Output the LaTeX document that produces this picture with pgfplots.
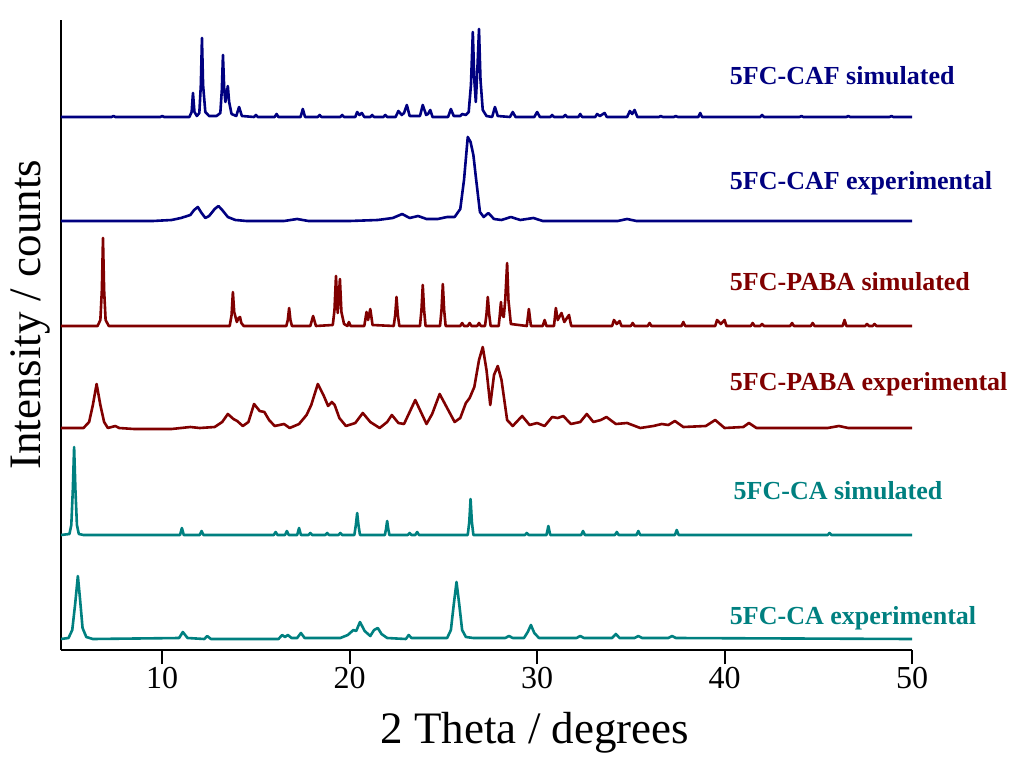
\documentclass[border=0pt]{standalone}
\usepackage{pgfplots}
\pgfplotsset{compat=1.18}
\usepackage{fontspec}
\setmainfont{Liberation Serif}

\definecolor{cafblue}{RGB}{0,0,128}
\definecolor{pabared}{RGB}{128,0,0}
\definecolor{cateal}{RGB}{0,128,128}

\begin{document}
\begin{tikzpicture}
\begin{axis}[
    scale only axis,
    width=851pt, height=630pt,
    xmin=4.6, xmax=50, ymin=0, ymax=630,
    axis x line*=bottom, axis y line*=left,
    axis line style={-, line width=2pt, black},
    xtick={10,20,30,40,50}, ytick=\empty,
    tick align=outside, major tick length=14pt,
    tick style={line width=2pt, black},
    /pgf/number format/assume math mode=true,
    xticklabel style={font=\fontsize{32}{32}\selectfont},
    xlabel={2 Theta / degrees},
    ylabel={Intensity / counts},
    xlabel style={font=\fontsize{45}{45}\selectfont, at={(axis description cs:0.557,-0.148)}, anchor=base},
    ylabel style={font=\fontsize{45}{45}\selectfont, at={(axis description cs:-0.036,0.532)}, anchor=center},
    every axis plot/.append style={line width=2.6pt, line join=round},
    clip=false,
]

% 5FC-CAF simulated
\addplot[cafblue] coordinates {
(4.6,533) (7.3,533)(7.4,534)(7.5,533) (9.9,533)(10.0,534)(10.1,533)
(11.45,533)(11.57,538)(11.64,557)(11.72,538)(11.85,534)
(11.98,537)(12.06,565)(12.12,612)(12.18,565)(12.3,538)(12.5,534)(12.9,534)
(13.1,537)(13.18,560)(13.24,595)(13.31,560)(13.37,548)(13.44,556)(13.5,564)(13.57,548)(13.7,536)
(13.95,534)(14.1,543)(14.25,534)
(14.9,533)(15.0,535)(15.1,533)(16.0,533)(16.1,536)(16.2,533)
(17.38,533)(17.5,541)(17.62,533)
(18.3,533)(18.4,535)(18.5,533)
(19.5,533)(19.6,535)(19.7,533)
(20.3,533)(20.4,538)(20.52,535)(20.65,537)(20.78,533)
(21.1,533)(21.2,535)(21.3,533)
(21.8,533)(21.9,535)(22.0,533)
(22.45,533)(22.6,539)(22.78,535)(22.9,537)(23.05,545)(23.2,534)
(23.75,534)(23.9,545)(24.08,535)(24.18,536)(24.3,540)(24.42,533)
(25.25,533)(25.4,541)(25.55,534)
(25.9,534)(26.0,536)(26.2,535)(26.35,538)(26.47,565)(26.57,618)(26.65,570)(26.73,548)(26.8,575)(26.9,621)(26.98,570)(27.1,540)(27.3,534)
(27.6,533)(27.75,543)(27.9,534)
(28.55,533)(28.7,538)(28.85,533)
(29.85,533)(30.0,538)(30.15,533)
(30.7,533)(30.8,535)(30.9,533)
(31.4,533)(31.5,535)(31.6,533)
(32.2,533)(32.3,536)(32.4,533)
(33.1,533)(33.2,536)(33.35,534)(33.6,537)(33.72,533)
(34.8,533)(34.95,539)(35.07,536)(35.2,540)(35.35,533)
(36.5,533)(36.6,534)(36.7,533)
(37.3,533)(37.4,534)(37.5,533)
(38.6,533)(38.7,537)(38.8,533)
(41.9,533)(42.0,535)(42.1,533)
(44.0,533)(44.1,534)(44.2,533)
(46.5,533)(46.6,534)(46.7,533)
(48.8,533)(48.9,534)(49.0,533)
(50,533)
};

% 5FC-CAF experimental
\addplot[cafblue] coordinates {
(4.6,429)(9.5,429)(10.5,430)(11.0,432)(11.5,435)(11.7,440)(11.9,443)(12.1,437)(12.3,432)(12.5,434)
(12.8,441)(13.0,444)(13.2,440)(13.5,433)(13.9,430)(14.5,429)(16.5,429)(17.2,431)(17.8,429)(20.0,429)
(21.5,430)(22.3,432)(22.8,436)(23.2,432)(23.65,434)(24.1,431)(24.7,431)(25.2,433)(25.6,433)(25.9,441)
(26.1,470)(26.3,513)(26.45,508)(26.6,495)(26.75,470)(26.95,438)(27.15,433)(27.4,437)(27.7,431)(28.1,430)
(28.6,433)(29.1,430)(29.8,432)(30.3,429)(34.3,429)(34.8,431)(35.3,429)(50,429)
};

% 5FC-PABA simulated
\addplot[pabared] coordinates {
(4.6,324)(6.55,324)(6.7,330)(6.78,360)(6.84,412)(6.9,360)(6.98,330)(7.15,324)
(13.6,324)(13.7,335)(13.77,358)(13.84,338)(13.98,328)(14.08,332)(14.15,333)(14.22,327)(14.35,324)
(16.62,324)(16.7,330)(16.77,342)(16.84,330)(16.92,324)
(17.9,324)(18.05,334)(18.2,324)
(19.1,325)(19.19,340)(19.27,374)(19.36,337)(19.41,350)(19.48,371)(19.56,338)(19.7,326)
(19.88,324)(19.96,328)(20.05,324)
(20.78,324)(20.9,338)(20.98,330)(21.1,341)(21.22,325)
(22.35,324)(22.43,335)(22.5,353)(22.57,335)(22.65,324)
(23.75,324)(23.83,340)(23.9,365)(23.97,340)(24.05,324)
(24.82,324)(24.9,340)(24.97,366)(25.04,340)(25.12,324)
(25.9,324)(26.0,327)(26.1,324)(26.3,324)(26.4,327)(26.5,324)(26.8,324)(26.9,327)(27.0,324)
(27.22,324)(27.3,336)(27.37,353)(27.44,336)(27.52,324)
(27.95,324)(28.0,333)(28.07,348)(28.13,335)(28.22,333)(28.3,350)(28.4,387)(28.47,350)(28.6,326)
(29.45,324)(29.56,341)(29.67,324)
(30.3,324)(30.4,330)(30.5,324)
(30.9,324)(31.0,342)(31.1,330)(31.3,337)(31.45,328)(31.7,335)(31.82,324)
(34.0,324)(34.1,330)(34.25,326)(34.4,329)(34.5,324)
(35.0,324)(35.1,327)(35.2,324)(35.9,324)(36.0,327)(36.1,324)
(37.7,324)(37.8,328)(37.9,324)
(39.5,324)(39.6,330)(39.8,326)(40.0,330)(40.1,324)
(41.4,324)(41.5,327)(41.6,324)(41.9,324)(42.0,326)(42.1,324)
(43.5,324)(43.6,327)(43.7,324)(44.6,324)(44.7,327)(44.8,324)
(46.3,324)(46.4,330)(46.5,324)
(47.5,324)(47.6,326)(47.7,324)(47.9,324)(48.0,326)(48.1,324)
(50,324)
};

% 5FC-PABA experimental
\addplot[pabared] coordinates {
(4.6,222)(5.8,222)(6.1,228)(6.3,245)(6.5,266)(6.7,245)(6.9,228)(7.1,222)(7.5,224)(7.7,222)
(8.5,221)(10.5,221)(11.5,223)(12.0,222)(12.8,223)(13.2,228)(13.5,236)(13.8,231)(14.0,229)(14.3,224)
(14.6,228)(14.9,246)(15.2,239)(15.45,238)(15.7,230)(16.0,224)(16.5,226)(16.8,222)(17.3,226)(17.7,235)
(17.95,245)(18.3,266)(18.6,255)(18.85,244)(19.05,248)(19.2,245)(19.45,232)(19.8,224)(20.3,227)(20.7,237)
(21.1,228)(21.6,222)(22.0,228)(22.25,235)(22.6,227)(22.9,226)(23.2,238)(23.5,250)(23.8,238)(24.1,226)
(24.4,236)(24.8,256)(25.2,242)(25.6,228)(25.9,232)(26.2,247)(26.4,252)(26.65,263)(26.9,290)(27.1,303)
(27.3,280)(27.5,245)(27.7,275)(27.9,284)(28.1,270)(28.4,230)(28.7,224)(29.2,234)(29.6,225)(30.0,227)
(30.4,224)(30.8,233)(31.1,232)(31.4,234)(31.8,226)(32.3,228)(32.65,236)(33.0,228)(33.4,230)(33.7,233)
(34.2,226)(34.8,227)(35.5,222)(36.2,224)(36.65,226)(37.0,225)(37.35,229)(37.8,223)(39.0,224)(39.5,230)
(40.0,222)(41.0,223)(41.3,227)(41.7,222)(45.5,222)(46.1,224)(46.6,222)(50,222)
};

% 5FC-CA simulated
\addplot[cateal] coordinates {
(4.6,115)(5.05,116)(5.15,125)(5.23,160)(5.3,203)(5.37,160)(5.45,125)(5.55,116)(5.8,115)
(10.95,115)(11.05,122)(11.15,115)
(12.0,115)(12.1,119)(12.2,115)
(15.95,115)(16.05,118)(16.15,115)
(16.55,115)(16.65,119)(16.75,115)
(17.2,115)(17.3,122)(17.4,115)
(17.8,115)(17.9,117)(18.0,115)(18.7,115)(18.8,117)(18.9,115)(19.4,115)(19.5,117)(19.6,115)
(20.25,115)(20.33,125)(20.4,137)(20.47,125)(20.55,115)
(21.88,115)(21.94,121)(22.0,129)(22.06,121)(22.12,115)
(23.1,115)(23.2,117)(23.3,115)(23.5,115)(23.6,118)(23.7,115)
(26.3,115)(26.38,128)(26.45,151)(26.52,128)(26.6,115)
(29.35,115)(29.45,117)(29.55,115)
(30.5,115)(30.6,124)(30.7,115)
(32.35,115)(32.45,119)(32.55,115)
(34.15,115)(34.25,118)(34.35,115)
(35.3,115)(35.4,119)(35.5,115)
(37.35,115)(37.45,120)(37.55,115)
(45.5,115)(45.6,117)(45.7,115)
(50,115)
};

% 5FC-CA experimental
\addplot[cateal] coordinates {
(4.6,11)(5.0,12)(5.2,20)(5.35,45)(5.5,74)(5.62,50)(5.75,22)(5.95,13)(6.3,11)
(10.9,12)(11.1,18)(11.35,12)
(12.25,11)(12.4,14)(12.6,11)
(16.2,11)(16.4,15)(16.55,13)(16.7,15)(16.9,12)
(17.2,12)(17.4,17)(17.6,12)
(19.5,12)(19.9,15)(20.2,20)(20.35,19)(20.55,28)(20.8,19)(21.1,14)(21.3,20)(21.5,22)(21.7,16)(22.0,12)
(23.0,11)(23.15,15)(23.3,12)
(25.2,12)(25.4,20)(25.55,45)(25.7,68)(25.85,45)(26.0,20)(26.2,13)(26.6,12)
(28.3,12)(28.5,14)(28.7,12)
(29.3,12)(29.5,18)(29.67,25)(29.85,17)(30.1,12)
(32.1,12)(32.3,14)(32.5,12)
(34.0,12)(34.2,16)(34.4,12)
(35.2,12)(35.4,14)(35.6,12)
(37.0,12)(37.2,14)(37.4,12)
(50,11)
};

\coordinate (O) at (rel axis cs:0,0);

\tikzset{lab/.style={anchor=mid west, font=\fontsize{26}{26}\selectfont\bfseries}}
\node[lab, text=cafblue]  at (axis cs:40.1,568) {5FC-CAF simulated};
\node[lab, text=cafblue]  at (axis cs:40.1,463) {5FC-CAF experimental};
\node[lab, text=pabared]  at (axis cs:40.1,362) {5FC-PABA simulated};
\node[lab, text=pabared]  at (axis cs:40.1,262) {5FC-PABA experimental};
\node[lab, text=cateal]   at (axis cs:40.3,153) {5FC-CA simulated};
\node[lab, text=cateal]   at (axis cs:40.1,28)  {5FC-CA experimental};

\end{axis}
\pgfresetboundingbox
\path[use as bounding box] ([shift={(-61pt,-108pt)}]O) rectangle ([shift={(958pt,650pt)}]O);
\end{tikzpicture}
\end{document}
